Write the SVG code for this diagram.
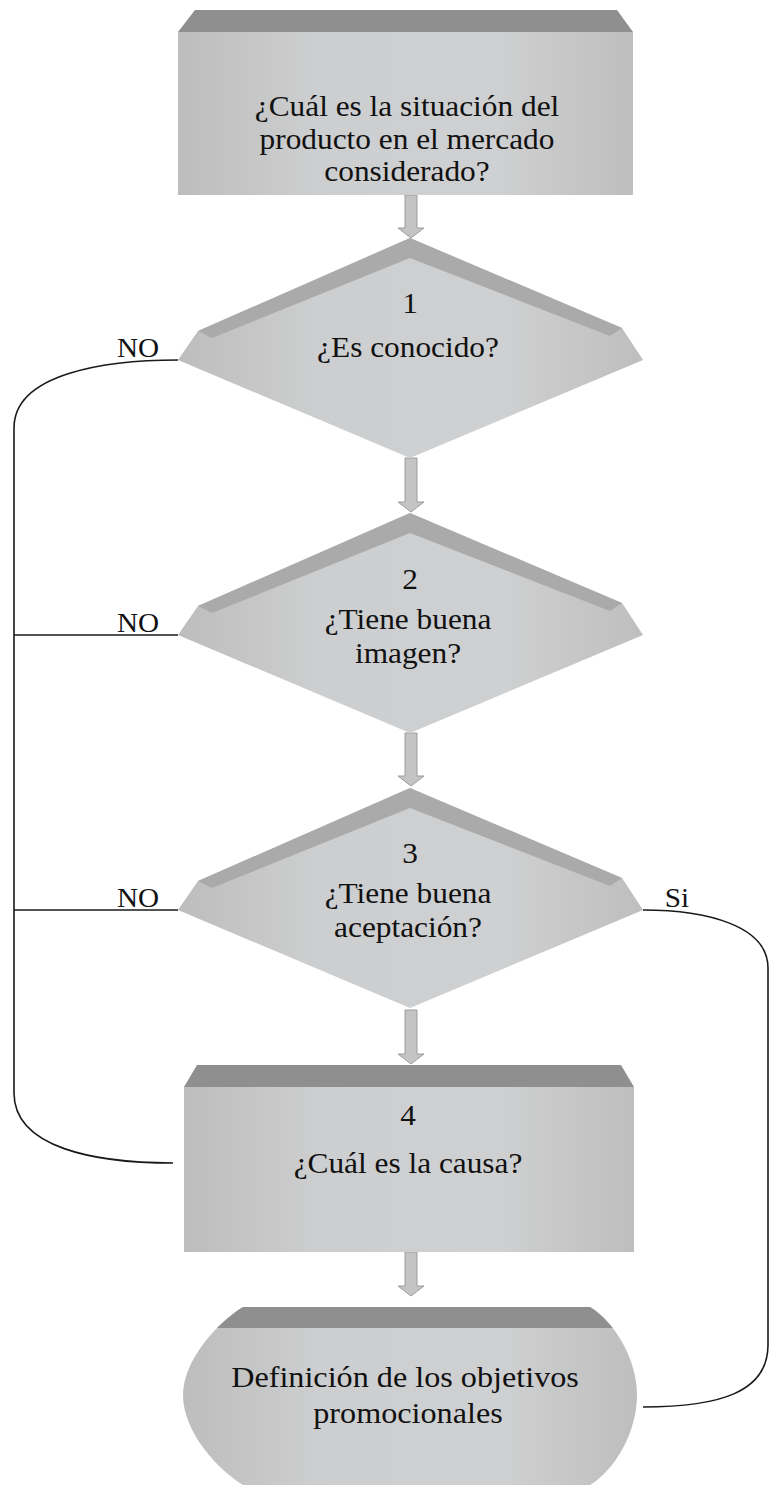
<svg xmlns="http://www.w3.org/2000/svg" width="771" height="1485" viewBox="0 0 771 1485">
<style>
.face{fill:url(#faceG);}
.band{fill:#8f8f8f;}
.dband{fill:#aaaaaa;}
.arrow{fill:#c4c4c4;stroke:#9c9c9c;stroke-width:1;}
.t{font-family:"Liberation Serif","Times New Roman",serif;font-size:28.5px;fill:#111111;text-anchor:middle;}
.lbl{font-family:"Liberation Serif","Times New Roman",serif;font-size:27px;fill:#111111;text-anchor:middle;}
.conn{fill:none;stroke:#1a1a1a;stroke-width:1.6;}
</style>
<defs>
<linearGradient id="faceG" x1="0" y1="0" x2="1" y2="0">
<stop offset="0" stop-color="#bdbdbd"/>
<stop offset="0.3" stop-color="#cdcecf"/>
<stop offset="0.7" stop-color="#cfd0d1"/>
<stop offset="1" stop-color="#bebebe"/>
</linearGradient>
<clipPath id="stadClip">
<path d="M243,1307 L590,1307 C615,1322 637,1360 637,1395 C637,1432 615,1470 590,1485 L243,1485 C218,1470 183,1432 183,1395 C183,1360 218,1322 243,1307 Z"/>
</clipPath>
</defs>
<rect width="771" height="1485" fill="#ffffff"/>

<g id="connectors">
<path class="conn" d="M178,360 C110,360 14,372 14,428 L14,1093 C14,1148 95,1163 173,1163"/>
<path class="conn" d="M14,635 L178,635"/>
<path class="conn" d="M14,910 L178,910"/>
<path class="conn" d="M643,910 C705,910 768,925 768,968 L768,1345 C768,1392 720,1407 643,1407"/>
<path class="arrow" d="M405,195 L417,195 L417,228 L424,228 L411,238 L398,228 L405,228 Z"/>
<path class="arrow" d="M405,458 L417,458 L417,502 L424,502 L411,512 L398,502 L405,502 Z"/>
<path class="arrow" d="M405,733 L417,733 L417,776 L424,776 L411,786 L398,776 L405,776 Z"/>
<path class="arrow" d="M405,1010 L417,1010 L417,1054 L424,1054 L411,1064 L398,1054 L405,1054 Z"/>
<path class="arrow" d="M405,1252 L417,1252 L417,1286 L424,1286 L411,1296 L398,1286 L405,1286 Z"/>
<text class="lbl" transform="translate(138,357) scale(1.08,1)">NO</text>
<text class="lbl" transform="translate(138,632) scale(1.08,1)">NO</text>
<text class="lbl" transform="translate(138,907) scale(1.08,1)">NO</text>
<text class="lbl" transform="translate(677,907) scale(1.08,1)">Si</text>
</g>

<g id="node-start">
<rect class="face" x="178" y="32" width="455" height="163"/>
<polygon class="band" points="195,10 617,10 633,32 178,32"/>
<text class="t" transform="translate(407,116) scale(1.1,1)">¿Cuál es la situación del</text>
<text class="t" transform="translate(407,149) scale(1.1,1)">producto en el mercado</text>
<text class="t" transform="translate(407,181) scale(1.1,1)">considerado?</text>
</g>

<g id="node-d1">
<polygon class="face" points="410,238 622,328 643,360 410,458 178,360 198,331"/>
<polygon class="dband" points="198,331 410,238 622,328 610,336 410,258 212,338"/>
<text class="t" transform="translate(410,313) scale(1.1,1)">1</text>
<text class="t" transform="translate(408,357) scale(1.1,1)">¿Es conocido?</text>
</g>

<g id="node-d2">
<polygon class="face" points="410,513 622,603 643,635 410,733 178,635 198,606"/>
<polygon class="dband" points="198,606 410,513 622,603 610,611 410,533 212,613"/>
<text class="t" transform="translate(410,589) scale(1.1,1)">2</text>
<text class="t" transform="translate(408,629) scale(1.1,1)">¿Tiene buena</text>
<text class="t" transform="translate(408,663) scale(1.1,1)">imagen?</text>
</g>

<g id="node-d3">
<polygon class="face" points="410,788 622,878 643,910 410,1008 178,910 198,881"/>
<polygon class="dband" points="198,881 410,788 622,878 610,886 410,808 212,888"/>
<text class="t" transform="translate(410,863) scale(1.1,1)">3</text>
<text class="t" transform="translate(408,903) scale(1.1,1)">¿Tiene buena</text>
<text class="t" transform="translate(408,937) scale(1.1,1)">aceptación?</text>
</g>

<g id="node-4">
<rect class="face" x="184" y="1087" width="450" height="165"/>
<polygon class="band" points="197,1065 621,1065 634,1087 184,1087"/>
<text class="t" transform="translate(408,1125) scale(1.1,1)">4</text>
<text class="t" transform="translate(408,1173) scale(1.1,1)">¿Cuál es la causa?</text>
</g>

<g id="node-end">
<path class="face" d="M243,1307 L590,1307 C615,1322 637,1360 637,1395 C637,1432 615,1470 590,1485 L243,1485 C218,1470 183,1432 183,1395 C183,1360 218,1322 243,1307 Z"/>
<rect class="band" x="180" y="1307" width="460" height="21" clip-path="url(#stadClip)"/>
<text class="t" transform="translate(405,1387) scale(1.13,1)">Definición de los objetivos</text>
<text class="t" transform="translate(408,1423) scale(1.13,1)">promocionales</text>
</g>
</svg>
